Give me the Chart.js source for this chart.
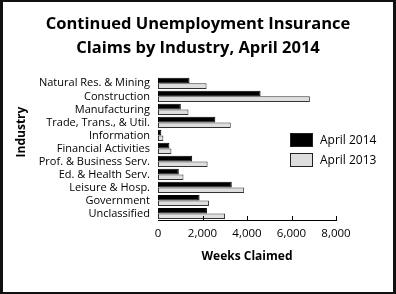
<!DOCTYPE html>
<html>
<head>
<meta charset="utf-8">
<script src="https://cdn.jsdelivr.net/npm/chart.js@4.4.1/dist/chart.umd.min.js"></script>
<style>
  html, body { margin: 0; padding: 0; background: #fff; }
  #wrap { position: relative; width: 396px; height: 294px; }
  canvas { position: absolute; left: 0; top: 0; }
  #frame { position: absolute; left: 0; top: 0; width: 396px; height: 294px; box-sizing: border-box;
           border-style: solid; border-color: #111; border-width: 2px 3px 2px 3px; pointer-events: none; }
</style>
</head>
<body>
<div id="wrap">
  <canvas id="c" width="396" height="294"></canvas>
  <div id="frame"></div>
</div>
<script>
const titleLines = ["Continued Unemployment Insurance", "Claims by Industry, April 2014"];
const categories = ["Natural Res. & Mining", "Construction", "Manufacturing", "Trade, Trans., & Util.",
  "Information", "Financial Activities", "Prof. & Business Serv.", "Ed. & Health Serv.",
  "Leisure & Hosp.", "Government", "Unclassified"];
const seriesNames = ["April 2014", "April 2013"];
const april2014 = [1415, 4610, 1025, 2576, 150, 512, 1537, 935, 3315, 1868, 2200];
const april2013 = [2183, 6825, 1370, 3270, 240, 603, 2230, 1145, 3873, 2290, 3013];
const xTitle = "Weeks Claimed";
const yTitle = "Industry";
const xMin = 0, xMax = 8000, xStep = 2000;

const FONT = "'Open Sans', 'DejaVu Sans', sans-serif";

const customPlugin = {
  id: 'custom',
  afterDraw(chart) {
    const ctx = chart.ctx;
    const xs = chart.scales.x;
    ctx.save();
    ctx.strokeStyle = '#000';
    ctx.lineWidth = 1;
    for (let v = xMin + xStep; v <= xMax; v += xStep) {
      const px = Math.round(xs.getPixelForValue(v)) + 0.5;
      ctx.beginPath();
      ctx.moveTo(px, xs.top);
      ctx.lineTo(px, xs.top - 4);
      ctx.stroke();
    }
    ctx.font = "bold 12px " + FONT;
    ctx.fillStyle = '#000';
    ctx.textAlign = 'center';
    ctx.textBaseline = 'middle';
    ctx.translate(22, 132);
    ctx.rotate(-Math.PI / 2);
    ctx.fillText(yTitle, 0, 0);
    ctx.restore();
    ctx.save();
    const ds = chart.data.datasets;
    const lx = 290, ly = [133, 153];
    ds.forEach((d, i) => {
      ctx.fillStyle = d.backgroundColor;
      ctx.fillRect(lx, ly[i], 23, 14);
      ctx.strokeStyle = '#222';
      ctx.lineWidth = 1;
      ctx.strokeRect(lx + 0.5, ly[i] + 0.5, 22, 13);
      ctx.fillStyle = '#000';
      ctx.font = "12px " + FONT;
      ctx.textAlign = 'left';
      ctx.textBaseline = 'middle';
      ctx.fillText(d.label, lx + 30, ly[i] + 7.5);
    });
    ctx.restore();
  }
};

new Chart(document.getElementById('c'), {
  type: 'bar',
  data: {
    labels: categories,
    datasets: [
      { label: seriesNames[0], data: april2014, backgroundColor: '#000000', borderColor: '#000000',
        borderWidth: 1, borderSkipped: false, categoryPercentage: 0.86, barPercentage: 1.0 },
      { label: seriesNames[1], data: april2013, backgroundColor: '#dedede', borderColor: '#333333',
        borderWidth: 1, borderSkipped: false, categoryPercentage: 0.86, barPercentage: 1.0 }
    ]
  },
  options: {
    indexAxis: 'y',
    responsive: false,
    animation: false,
    layout: { padding: { left: 0, right: 0, top: 0, bottom: 20 } },
    plugins: {
      legend: { display: false },
      tooltip: { enabled: false },
      title: {
        display: true,
        text: titleLines,
        color: '#000',
        font: { family: FONT, size: 16.5, weight: 'bold', lineHeight: 1.48 },
        padding: { top: 12, bottom: 16 }
      }
    },
    scales: {
      x: {
        min: xMin, max: xMax,
        grid: { display: false, drawTicks: false },
        border: { display: true, color: '#000', width: 1 },
        ticks: { stepSize: xStep, color: '#000', padding: 7, maxRotation: 0,
                 font: { family: FONT, size: 11.5 } },
        title: { display: true, text: xTitle, color: '#000',
                 font: { family: FONT, size: 12, weight: 'bold' },
                 padding: { top: 4, bottom: 10 } },
        afterFit(s) { s.height = 54; }
      },
      y: {
        grid: { display: false, drawTicks: false },
        border: { display: false },
        ticks: { color: '#000', padding: 8, autoSkip: false, font: { family: FONT, size: 11 } },
        afterFit(s) { s.width = 158; }
      },
      ySpacer: {
        type: 'category',
        position: 'right',
        display: true,
        grid: { display: false, drawTicks: false },
        border: { display: false },
        ticks: { display: false },
        afterFit(s) { s.width = 60; }
      }
    }
  },
  plugins: [customPlugin]
});
</script>
</body>
</html>
